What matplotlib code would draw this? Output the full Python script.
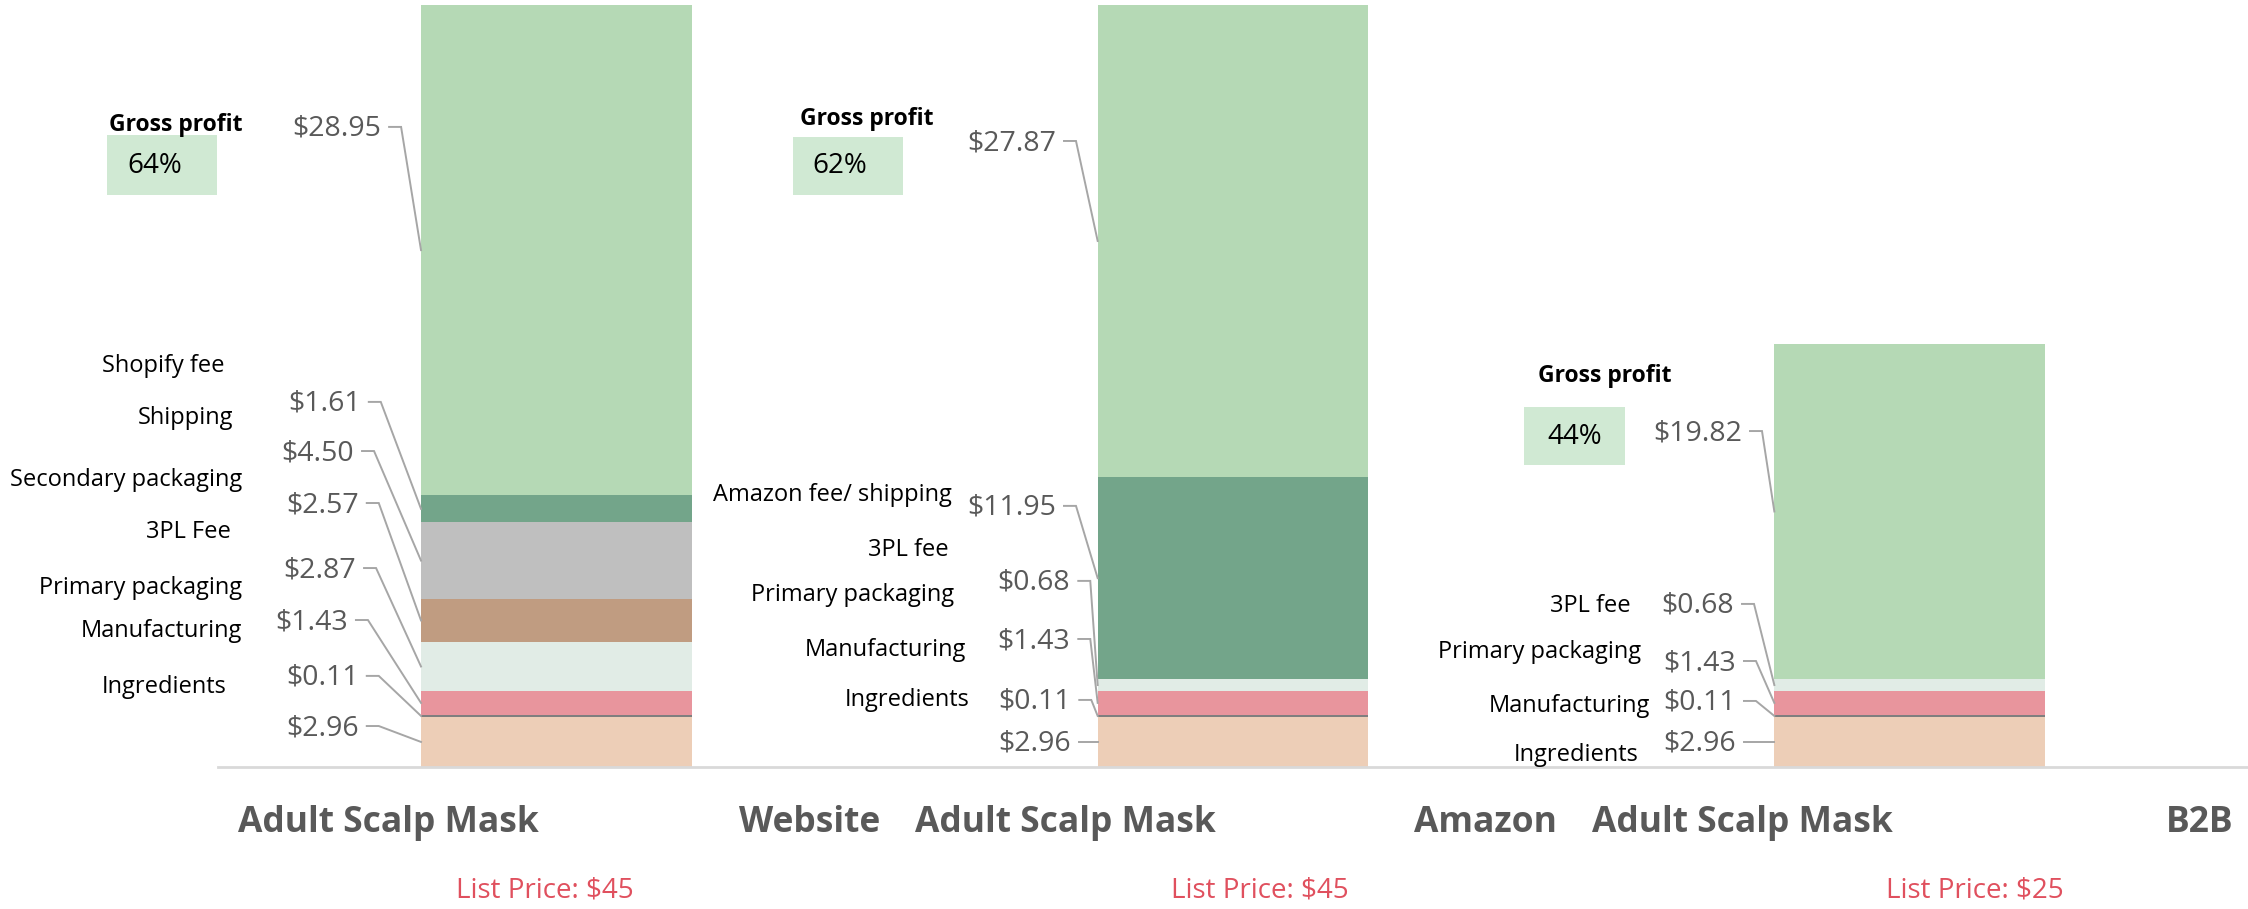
import matplotlib.pyplot as plt
from matplotlib.patches import Rectangle

plt.rcParams['font.family'] = ['Open Sans', 'DejaVu Sans']

# ---- data ----
channels = ['Website', 'Amazon', 'B2B']
product = 'Adult Scalp Mask'
list_price = [45, 45, 25]
margin_pct = [64, 62, 44]

# cost stack per channel, bottom to top
ingredients = [2.96, 2.96, 2.96]
manufacturing = [0.11, 0.11, 0.11]
primary_pack = [1.43, 1.43, 1.43]
fee_3pl = [2.87, 0.68, 0.68]
secondary_pack = [2.57, 0.0, 0.0]
shipping = [4.50, 0.0, 0.0]
channel_fee = [1.61, 11.95, 0.0]
gross_profit = [28.95, 27.87, 19.82]

# names written beside each bar (top to bottom)
names_website = ['Shopify fee', 'Shipping', 'Secondary packaging', '3PL Fee',
                 'Primary packaging', 'Manufacturing', 'Ingredients']
names_amazon = ['Amazon fee/ shipping', '3PL fee', 'Primary packaging',
                'Manufacturing', 'Ingredients']
names_b2b = ['3PL fee', 'Primary packaging', 'Manufacturing', 'Ingredients']

# ---- layout (x relative to bar centre, y in $) ----
name_pos = [
    [(-0.490, 23.68), (-0.478, 20.61), (-0.4645, 16.95), (-0.481, 13.88),
     (-0.4645, 10.57), (-0.4645, 8.03), (-0.488, 4.72)],
    [(-0.415, 16.06), (-0.421, 12.82), (-0.412, 10.16), (-0.395, 6.88), (-0.389, 3.98)],
    [(-0.413, 9.51), (-0.397, 6.79), (-0.384, 3.60), (-0.401, 0.71)],
]
value_pos = [
    [(-0.292, 2.30), (-0.292, 5.26), (-0.308, 8.56), (-0.296, 11.63),
     (-0.292, 15.47), (-0.299, 18.54), (-0.289, 21.44), (-0.259, 37.68)],
    [(-0.239, 1.36), (-0.239, 3.84), (-0.2405, 7.44), (-0.2405, 10.87),
     (-0.2616, 15.30), (-0.2616, 36.85)],
    [(-0.2567, 1.36), (-0.2567, 3.78), (-0.2567, 6.14), (-0.2596, 9.51), (-0.2478, 19.72)],
]
gp_title_pos = [(-0.4645, 37.91), (-0.4433, 38.27), (-0.352, 23.09)]
gp_box = [(-0.664, 33.78, 0.1625, 3.54), (-0.650, 33.78, 0.1625, 3.43), (-0.570, 17.84, 0.1495, 3.42)]
gp_pct_pos = [(-0.634, 35.49), (-0.6215, 35.49), (-0.536, 19.49)]
price_x = [-0.017, 0.040, 0.097]

colors = ['#EDCEB7', '#7F7F7F', '#E8959D', '#E1ECE6', '#C09C81', '#BFBFBF', '#73A58A', '#B5D9B5']
stack = [ingredients, manufacturing, primary_pack, fee_3pl, secondary_pack,
         shipping, channel_fee, gross_profit]
names = [names_website, names_amazon, names_b2b]

BAR_W = 0.4
LEADER = '#A6A6A6'
VAL_COLOR = '#595959'

fig = plt.figure(figsize=(22.48, 9.09), dpi=100)
ax = fig.add_axes([0.09698, 0.15622, 0.90302, 0.83828])
ax.set_xlim(-0.5, 2.5)
ax.set_ylim(0, 45)
for side in ['top', 'right', 'left']:
    ax.spines[side].set_visible(False)
ax.spines['bottom'].set_color('#D9D9D9')
ax.spines['bottom'].set_linewidth(2)
ax.set_xticks([])
ax.set_yticks([])

dx_start = 8 / 676.7
dx_stub = 12 / 676.7

for i, ch in enumerate(channels):
    bottom = 0
    k = 0
    for j, series in enumerate(stack):
        v = series[i]
        if v <= 0:
            continue
        ax.bar(i, v, BAR_W, bottom=bottom, color=colors[j], linewidth=0, zorder=2)
        mid = bottom + v / 2
        lx, ly = value_pos[i][k]
        ax.text(i + lx, ly, f'${v:.2f}', ha='right', va='center',
                fontsize=20.5, color=VAL_COLOR, zorder=4)
        x0 = i + lx + dx_start
        x1 = x0 + dx_stub
        xe = i - BAR_W / 2
        ax.plot([x0, x1, xe], [ly + 0.12, ly + 0.12, mid], color=LEADER,
                lw=1.4, zorder=3, solid_joinstyle='miter')
        bottom += v
        k += 1

    for name, (nx, ny) in zip(names[i], name_pos[i]):
        ax.text(i + nx, ny, name, ha='right', va='center', fontsize=17,
                color='black', clip_on=False)

    tx, ty = gp_title_pos[i]
    ax.text(i + tx, ty, 'Gross profit', ha='right', va='center', fontsize=16.5,
            fontweight='bold', color='black', clip_on=False)
    bx, by, bw, bh = gp_box[i]
    ax.add_patch(Rectangle((i + bx, by), bw, bh, facecolor='#D0E9D3',
                           edgecolor='none', clip_on=False, zorder=1))
    px, py = gp_pct_pos[i]
    ax.text(i + px, py, f'{margin_pct[i]}%', ha='left', va='center',
            fontsize=20, color='black', clip_on=False)

    ax.text(i - 0.47, -3.31, product, ha='left', va='center', fontsize=25.5,
            fontweight='bold', color=VAL_COLOR, clip_on=False)
    ax.text(i + 0.478, -3.31, ch, ha='right', va='center', fontsize=25.5,
            fontweight='bold', color=VAL_COLOR, clip_on=False)
    ax.text(i + price_x[i], -7.32, f'List Price: ${list_price[i]}', ha='center',
            va='center', fontsize=20, color='#E0505E', clip_on=False)

fig.savefig('out.png', dpi=100, facecolor='white')
